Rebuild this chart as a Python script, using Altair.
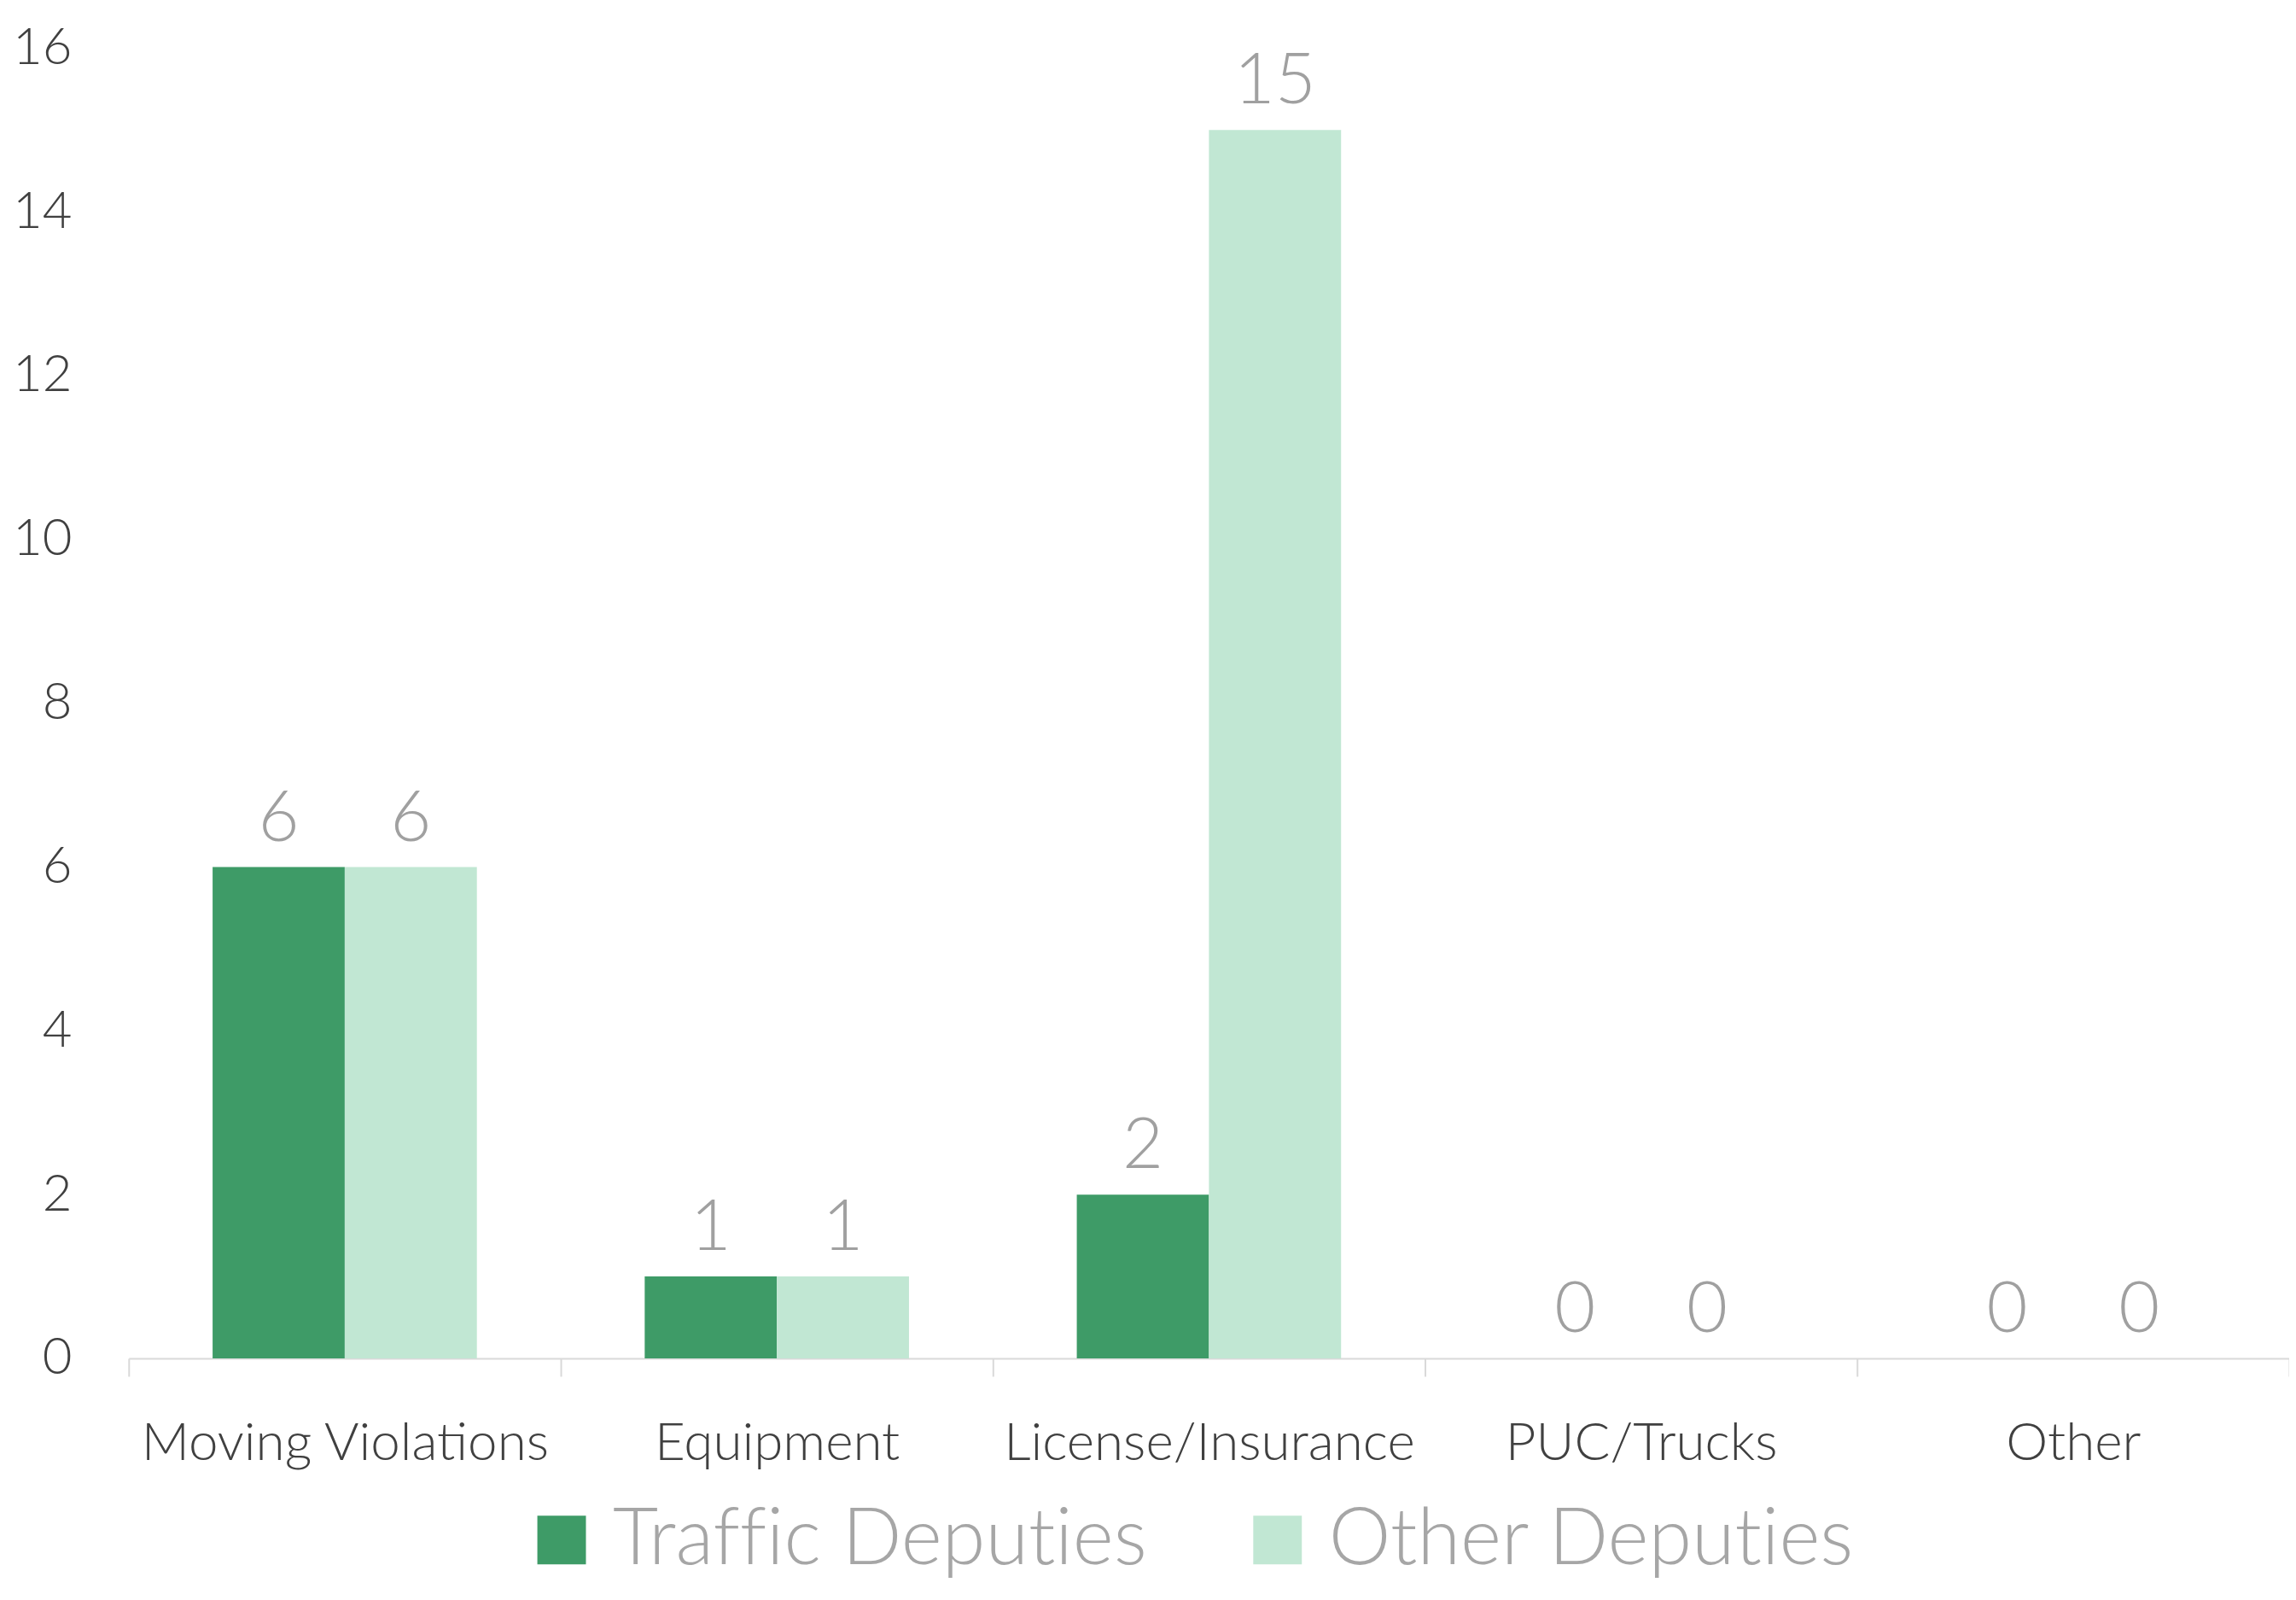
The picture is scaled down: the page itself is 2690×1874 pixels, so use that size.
import altair as alt
import pandas as pd

categories = ["Moving Violations", "Equipment", "License/Insurance", "PUC/Trucks", "Other"]
series = ["Traffic Deputies", "Other Deputies"]
traffic = [6, 1, 2, 0, 0]
other = [6, 1, 15, 0, 0]
y_ticks = [0, 2, 4, 6, 8, 10, 12, 14, 16]
colors = ["#3E9B67", "#C1E7D3"]

rows = []
for c, t, o in zip(categories, traffic, other):
    rows.append({"category": c, "series": series[0], "value": t})
    rows.append({"category": c, "series": series[1], "value": o})
df = pd.DataFrame(rows)

FONT = "Lato"
W = 300

x_enc = alt.X(
    "category:N",
    sort=categories,
    scale=alt.Scale(paddingInner=0, paddingOuter=0),
    axis=alt.Axis(
        title=None, labelAngle=0, labelFont=FONT, labelFontWeight=W,
        labelFontSize=62, labelColor="#404040", labelLimit=2000,
        domainColor="#d9d9d9", domainWidth=2,
        tickColor="#d9d9d9", tickWidth=2, tickSize=21,
        tickBand="extent", labelPadding=49,
    ),
)
xoff = alt.XOffset("series:N", sort=series,
                   scale=alt.Scale(paddingOuter=0.635, paddingInner=0))
y_enc = alt.Y(
    "value:Q",
    scale=alt.Scale(domain=[0, 16], nice=False),
    axis=alt.Axis(
        title=None, values=y_ticks, format="d", grid=False, domain=False, ticks=False,
        labelFont=FONT, labelFontWeight=W, labelFontSize=60,
        labelColor="#404040", labelPadding=67, labelFlush=False,
    ),
)

bars = alt.Chart(df).mark_bar().encode(
    x=x_enc,
    xOffset=xoff,
    y=y_enc,
    color=alt.Color(
        "series:N", sort=series,
        scale=alt.Scale(domain=series, range=colors),
        legend=alt.Legend(
            title=None, orient="none", legendX=462, legendY=1704,
            direction="horizontal", symbolType="square", symbolSize=3249,
            symbolStrokeWidth=0, symbolOpacity=1,
            labelFont=FONT, labelFontWeight=W, labelFontSize=92,
            labelColor="#a6a6a6", labelOffset=14, columnPadding=107,
            padding=0, labelLimit=2000,
            labelExpr="replace(replace(datum.label, 'ti', 't\u200ci'), 'ffi', 'f\u200cf\u200ci')",
        ),
    ),
)

labels = alt.Chart(df).mark_text(
    dy=-31, baseline="alphabetic", fontSize=83, color="#a0a0a0",
    font=FONT, fontWeight=W,
).encode(
    x=alt.X("category:N", sort=categories),
    xOffset=alt.XOffset("series:N", sort=series),
    y=alt.Y("value:Q"),
    text=alt.Text("value:Q"),
)

chart = alt.layer(bars, labels).properties(
    width=2535, height=1537,
    padding={"left": 143, "top": 47, "right": 0, "bottom": 270},
    autosize="none", background="white",
).configure_view(stroke=None)

chart.save("out.html", embed_options={"renderer": "svg", "actions": False})
